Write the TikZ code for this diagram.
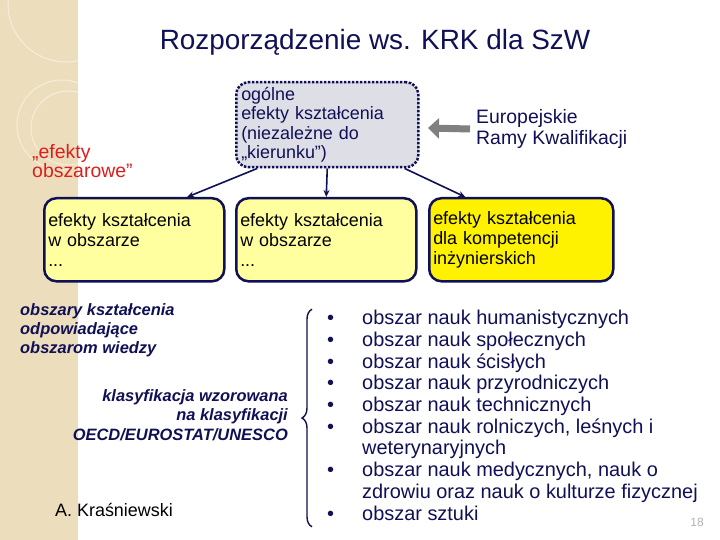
\documentclass[tikz,border=0pt]{standalone}
\usepackage{fontspec}
\setmainfont{Liberation Sans}
\usetikzlibrary{positioning,calc,arrows.meta,decorations.pathreplacing}
\definecolor{navy}{RGB}{16,16,86}
\definecolor{paleyellow}{RGB}{255,255,160}
\definecolor{strip}{RGB}{236,222,188}
\definecolor{boxgrey}{RGB}{222,222,230}
\definecolor{areared}{RGB}{222,30,30}

\begin{document}
\begin{tikzpicture}[x=1bp, y=-1bp,
  effect/.style={rectangle, draw=navy, line width=2.5bp, rounded corners=12bp, text width=172bp, inner xsep=4bp, minimum height=83bp, align=left, anchor=north west, font=\fontsize{18}{20}\selectfont},
  link/.style={draw=navy, line width=1.6bp, -{Stealth[length=7bp,width=6bp]}},
  note/.style={text=navy, inner sep=0pt, font=\fontsize{16.5}{19.3}\selectfont\bfseries\itshape}]
\useasboundingbox (0,0) rectangle (720,540);
\fill[white] (0,0) rectangle (720,540);
\fill[strip] (0,0) rectangle (78,540);
\begin{scope}
\clip (0,0) rectangle (78,540);
\draw[white, opacity=.5, line width=1bp] (66,4) circle (58);
\draw[white, opacity=.5, line width=1bp] (62,125) circle (45);
\draw[white, opacity=.5, line width=1bp] (68,128) circle (37);
\end{scope}

\node (title) [text=navy, font=\fontsize{28}{30}\selectfont] at (375,42) {Rozporządzenie ws. KRK dla SzW};

\node (areaeffects) [anchor=west, text=areared, align=left, inner sep=0pt, font=\fontsize{19.5}{19}\selectfont] at (32,161) {„efekty\\obszarowe”};
\node (general) [rectangle, draw=navy, dash pattern=on 2.5bp off 1.5bp, line width=2.5bp, fill=boxgrey, rounded corners=12bp, text width=172bp, inner xsep=5bp, minimum height=85bp, align=left, anchor=north west, text=navy, font=\fontsize{18}{19.3}\selectfont] at (235,81) {ogólne\\efekty kształcenia\\(niezależne do\\„kierunku”)};
\coordinate (erktip) at (428,128);
\node (erk) [anchor=west, text=navy, align=left, inner sep=0pt, font=\fontsize{19.5}{22}\selectfont] at (476,129) {Europejskie\\Ramy Kwalifikacji};
\draw[gray, line width=7bp, -{Triangle[length=11bp,width=20bp]}] ([xshift=-6bp]erk.west) -- (erktip);

\node (areabox) [effect, fill=paleyellow] at (43,197) {efekty kształcenia\\w obszarze\\...};
\node (otherbox) [effect, fill=paleyellow] at (235,197) {efekty kształcenia\\w obszarze\\...};
\node (engbox) [effect, fill=yellow, text width=176bp] at (428,197) {efekty kształcenia\\dla kompetencji\\inżynierskich};
\draw[link] ($(general.south west)!.12!(general.south east)$) -- ($(areabox.north west)!.79!(areabox.north east)$);
\draw[link] (general.south) -- (otherbox.north);
\draw[link] ($(general.south west)!.92!(general.south east)$) -- ($(engbox.north west)!.2!(engbox.north east)$);

\node (fields) [note, anchor=west, align=left] at (20,330) {obszary kształcenia\\odpowiadające\\obszarom wiedzy};
\node (oecd) [note, anchor=east, align=right] at (288,415) {klasyfikacja wzorowana\\na klasyfikacji\\OECD/EUROSTAT/UNESCO};
\node (author) [anchor=west, inner sep=0pt, font=\fontsize{18}{20}\selectfont] at (55,510) {A. Kraśniewski};

\node (areas) [anchor=west, text=navy, inner sep=0pt, font=\fontsize{20}{21.8}\selectfont] at (327,418) {\begin{tabular}{@{}p{35bp}@{}l@{}}
• & obszar nauk humanistycznych\\
• & obszar nauk społecznych\\
• & obszar nauk ścisłych\\
• & obszar nauk przyrodniczych\\
• & obszar nauk technicznych\\
• & obszar nauk rolniczych, leśnych i\\
 & weterynaryjnych\\
• & obszar nauk medycznych, nauk o\\
 & zdrowiu oraz nauk o kulturze fizycznej\\
• & obszar sztuki
\end{tabular}};
\draw[navy, line width=1.4bp, decorate, decoration={brace, amplitude=10bp}] ([xshift=-15bp]areas.south west) -- ([xshift=-15bp]areas.north west);
\node (pagenum) [text=gray!60, font=\fontsize{12}{12}\selectfont] at (697,522) {18};
\end{tikzpicture}
\end{document}
